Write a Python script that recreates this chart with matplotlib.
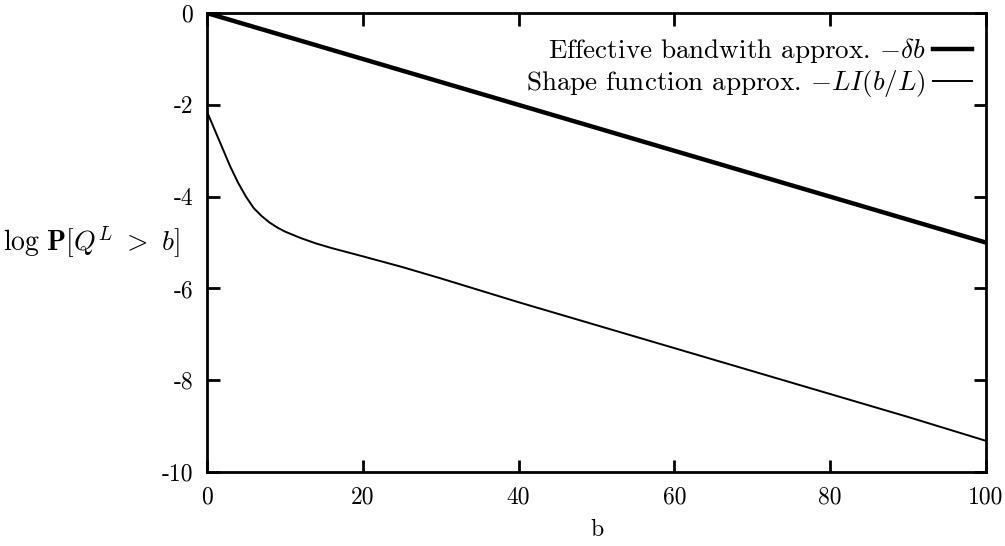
import matplotlib
matplotlib.use("Agg")
import matplotlib.pyplot as plt

plt.rcParams["font.family"] = "cmr10"
plt.rcParams["mathtext.fontset"] = "cm"
plt.rcParams["axes.unicode_minus"] = False
plt.rcParams["axes.formatter.use_mathtext"] = False

# effective bandwidth approximation (straight line)
eb_b = [0, 100]
eb_val = [0, -5.0]

# shape function approximation
sf_b = [0, 1, 2, 3, 4, 5, 6, 7, 8, 9, 10, 12, 14, 16, 18, 20, 25, 30, 40, 50, 60, 70, 80, 90, 100]
sf_val = [-2.15, -2.55, -2.95, -3.35, -3.7, -4.0, -4.25, -4.42, -4.56, -4.67, -4.76, -4.9, -5.02, -5.12, -5.21, -5.3,
          -5.53, -5.78, -6.3, -6.8, -7.3, -7.8, -8.3, -8.8, -9.32]

xticks = [0, 20, 40, 60, 80, 100]
yticks = [0, -2, -4, -6, -8, -10]

fig = plt.figure(figsize=(10.05, 5.46), dpi=100)
ax = fig.add_axes([0.206, 0.1355, 0.775, 0.8405])

ax.plot(eb_b, eb_val, color="black", lw=3.2, label=r"Effective bandwith approx. $-\delta b$")
ax.plot(sf_b, sf_val, color="black", lw=1.4, label=r"Shape function approx. $-LI(b/L)$")

ax.set_xlim(0, 100)
ax.set_ylim(-10, 0)
ax.set_xticks(xticks)
ax.set_yticks(yticks)
ax.set_xticklabels([str(t) for t in xticks])
ax.set_yticklabels([str(t) for t in yticks])
ax.tick_params(direction="in", length=9, width=2, top=True, right=True, labelsize=17, pad=10)
for s in ax.spines.values():
    s.set_linewidth(2)

ax.set_xlabel("b", fontsize=17, labelpad=8)
ax.set_ylabel(r"$\log\,\mathbf{P}[Q^L\ >\ b]$", fontsize=20, rotation=0, ha="right", va="center")
ax.yaxis.set_label_coords(-0.035, 0.5)

ax.legend(loc="upper right", frameon=False, markerfirst=False, fontsize=19.5, handlelength=1.45,
          handletextpad=0.25, borderaxespad=0.0, borderpad=0.0, labelspacing=0.12,
          bbox_to_anchor=(0.982, 0.95))

fig.savefig("out.png", dpi=100)
